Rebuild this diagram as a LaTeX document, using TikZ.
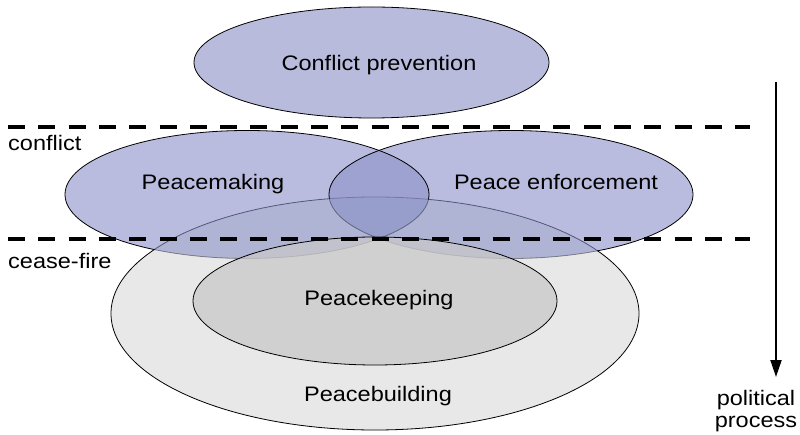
\documentclass[tikz,border=0pt]{standalone}
\usepackage{fontspec}
\setmainfont{Liberation Sans}[FakeStretch=1.12]
\usetikzlibrary{arrows.meta}
\definecolor{cpfill}{RGB}{184,187,220}
\definecolor{bluefill}{RGB}{138,144,200}
\definecolor{pbfill}{RGB}{232,232,232}
\definecolor{pkfill}{RGB}{200,200,200}
\begin{document}
\begin{tikzpicture}[x=1pt,y=-1pt,
  lbl/.style={font=\fontsize{21}{22.5}\selectfont, inner sep=0pt},
  divider/.style={line width=4pt, dash pattern=on 17pt off 13.3pt},
  outline/.style={line width=0.8pt}]
\useasboundingbox (0,0) rectangle (800,435);
% centres
\coordinate (pbc) at (375,313.5);
\coordinate (pkc) at (375,301);
\coordinate (pmc) at (247,194.5);
\coordinate (pec) at (511,194.5);
\coordinate (cpc) at (371.5,62.5);
% peacebuilding
\path[fill=pbfill, draw=black, outline] (pbc) ellipse [x radius=264pt, y radius=116.5pt];
% blue fills
\path[fill=bluefill, fill opacity=0.6] (pmc) ellipse [x radius=182pt, y radius=64pt];
\path[fill=bluefill, fill opacity=0.6] (pec) ellipse [x radius=182pt, y radius=64pt];
% blue outlines outside peacebuilding
\begin{scope}[even odd rule]
  \clip (-10,-10) rectangle (810,445) (pbc) ellipse [x radius=264pt, y radius=116.5pt];
  \draw[outline] (pmc) ellipse [x radius=182pt, y radius=64pt];
  \draw[outline] (pec) ellipse [x radius=182pt, y radius=64pt];
\end{scope}
% blue outlines inside peacebuilding
\begin{scope}
  \clip (pbc) ellipse [x radius=264pt, y radius=116.5pt];
  \draw[outline, draw opacity=0.4] (pmc) ellipse [x radius=182pt, y radius=64pt];
  \draw[outline, draw opacity=0.4] (pec) ellipse [x radius=182pt, y radius=64pt];
\end{scope}
% peacekeeping
\path[fill=pkfill, fill opacity=0.75] (pkc) ellipse [x radius=182pt, y radius=64pt];
\draw[outline] (pkc) ellipse [x radius=182pt, y radius=64pt];
% conflict prevention
\path[fill=cpfill, draw=black, outline] (cpc) ellipse [x radius=177.5pt, y radius=55.5pt];
% dashed lines
\coordinate (c1a) at (8,127);
\coordinate (c1b) at (750,127);
\coordinate (c2a) at (8,239);
\coordinate (c2b) at (750,239);
\draw[divider] (c1a) -- (c1b);
\draw[divider] (c2a) -- (c2b);
% arrow
\coordinate (arA) at (776,82);
\coordinate (arB) at (776,377);
\draw[line width=2pt, -{Triangle[length=17pt, width=11pt]}] (arA) -- (arB);
% labels
\node[lbl, anchor=base] (tcp) at (379,71) {Conflict prevention};
\node[lbl, anchor=base] (tpm) at (213,190) {Peacemaking};
\node[lbl, anchor=base] (tpe) at (556,190) {Peace enforcement};
\node[lbl, anchor=base] (tpk) at (379,306) {Peacekeeping};
\node[lbl, anchor=base] (tpb) at (378,401) {Peacebuilding};
\node[lbl, anchor=base west] (tconf) at (8,151) {conflict};
\node[lbl, anchor=base west] (tcf) at (8,269) {cease-fire};
\node[lbl, align=center, anchor=center] (tpp) at (756,411) {political\\process};
\end{tikzpicture}
\end{document}
